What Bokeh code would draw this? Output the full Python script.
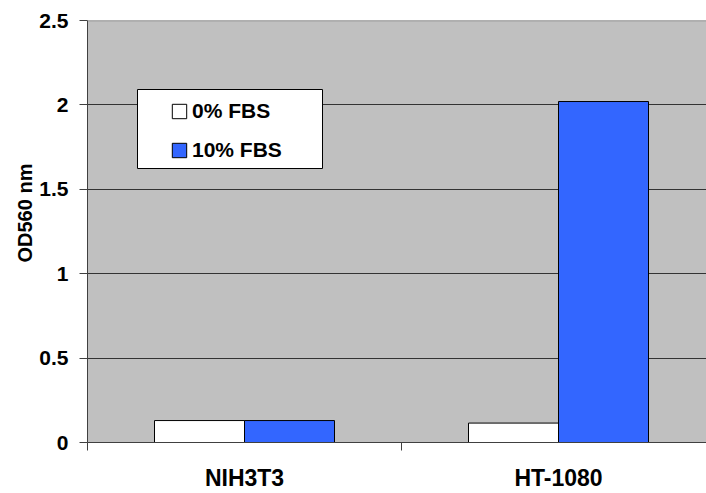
import math
from bokeh.plotting import figure
from bokeh.models import (Range1d, FixedTicker, Legend, LegendItem, BoxAnnotation,
                          Title, CustomJSTickFormatter, Span)
from bokeh.embed import file_html
from bokeh.resources import INLINE

categories = ["NIH3T3", "HT-1080"]
series_names = ["0% FBS", "10% FBS"]
fbs0 = [0.13, 0.115]
fbs10 = [0.13, 2.02]
y_ticks = [0, 0.5, 1, 1.5, 2, 2.5]

FONT = "Liberation Sans"
PX_X = 314.0          # pixels per category
FRAME_W = 619
FRAME_H = 422
Y_MAX = 2.5
PX_Y = FRAME_H / Y_MAX
BAR_W = 90 / PX_X

p = figure(width=706, height=493, output_backend="svg", toolbar_location=None,
           x_range=Range1d(0, FRAME_W / PX_X), y_range=Range1d(0, Y_MAX),
           min_border_left=87, min_border_right=0, min_border_top=20, min_border_bottom=51)
p.background_fill_color = "#C0C0C0"
p.border_fill_color = "white"
p.outline_line_color = None

idx = list(range(len(categories)))
x0 = [i + 0.5 - BAR_W / 2 for i in idx]
x1 = [i + 0.5 + BAR_W / 2 for i in idx]
r0 = p.vbar(x=x0, top=fbs0, bottom=0, width=BAR_W, fill_color="#FFFFFF",
            line_color="#000000", line_width=1)
r1 = p.vbar(x=x1, top=fbs10, bottom=0, width=BAR_W, fill_color="#3366FF",
            line_color="#000000", line_width=1)

# grid
p.xgrid.visible = False
p.ygrid.ticker = FixedTicker(ticks=y_ticks[1:-1])
p.ygrid.grid_line_color = "#333333"
p.add_layout(Span(location=y_ticks[-1], dimension="width", line_color="#808080", line_width=1.5))

# x axis
xa = p.xaxis[0]
xa.ticker = FixedTicker(ticks=[i + 0.5 for i in idx], minor_ticks=[float(i) for i in range(len(categories) + 1)])
xa.major_label_overrides = {i + 0.5: c for i, c in zip(idx, categories)}
xa.major_tick_line_color = None
xa.major_tick_out = 0
xa.major_tick_in = 0
xa.minor_tick_out = 8
xa.minor_tick_in = 0
xa.minor_tick_line_color = "#404040"
xa.axis_line_color = "#404040"
xa.major_label_standoff = 14
xa.major_label_text_font = FONT
xa.major_label_text_font_style = "bold"
xa.major_label_text_font_size = "23px"
xa.major_label_text_color = "black"

# y axis
ya = p.yaxis[0]
ya.ticker = FixedTicker(ticks=y_ticks, minor_ticks=[])
ya.formatter = CustomJSTickFormatter(code="return String(tick)")
ya.major_tick_out = 8
ya.major_tick_in = 0
ya.major_tick_line_color = "#404040"
ya.minor_tick_line_color = None
ya.axis_line_color = "#404040"
ya.major_label_standoff = 11
ya.major_label_text_font = FONT
ya.major_label_text_font_style = "bold"
ya.major_label_text_font_size = "21px"
ya.major_label_text_color = "black"

# y axis title (placed slightly above centre, as in the original)
p.add_layout(Title(text="OD560 nm", align="left", offset=180, standoff=2,
                   text_font=FONT, text_font_style="bold", text_font_size="20px",
                   text_color="black"), "left")

# legend box
p.add_layout(BoxAnnotation(left=50 / PX_X, right=235 / PX_X,
                           bottom=274 / PX_Y, top=353 / PX_Y,
                           fill_color="white", fill_alpha=1.0,
                           line_color="black", line_width=1, line_alpha=1.0))

legend = Legend(items=[LegendItem(label=series_names[0], renderers=[r0]),
                       LegendItem(label=series_names[1], renderers=[r1])],
                location=(83, 280), orientation="vertical", margin=0, padding=0,
                spacing=15, glyph_width=18, glyph_height=18, label_standoff=4,
                label_height=24, label_text_font=FONT, label_text_font_style="bold",
                label_text_font_size="21px", label_text_color="black",
                border_line_color=None, background_fill_alpha=0)
p.add_layout(legend)

open("out.html", "w").write(file_html(p, INLINE))
